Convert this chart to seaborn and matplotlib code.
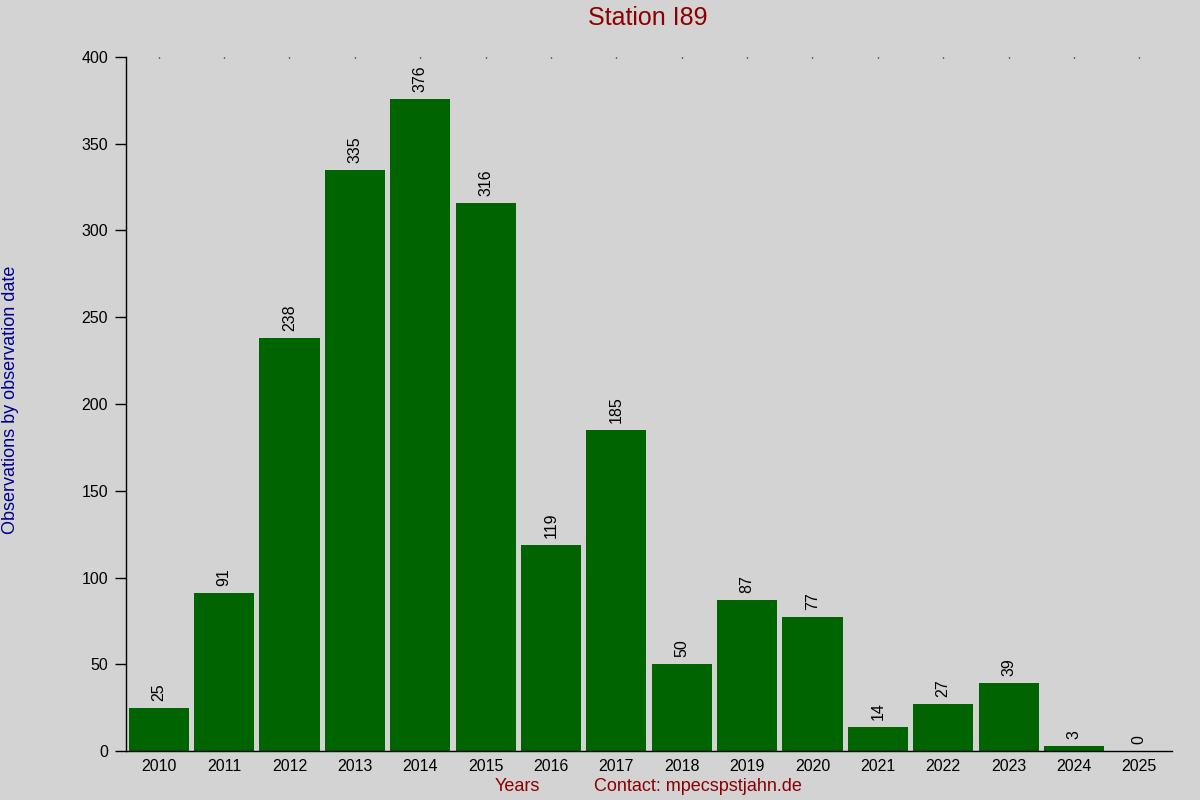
import matplotlib
matplotlib.use("Agg")
import matplotlib.pyplot as plt
import seaborn as sns
import pandas as pd

# values
years = ["2010", "2011", "2012", "2013", "2014", "2015", "2016", "2017",
         "2018", "2019", "2020", "2021", "2022", "2023", "2024", "2025"]
counts = [25, 91, 238, 335, 376, 316, 119, 185, 50, 87, 77, 14, 27, 39, 3, 0]
yticks = [0, 50, 100, 150, 200, 250, 300, 350, 400]

bg = "#d3d3d3"
bar_color = "#006400"
red = "#8b0000"
blue = "#00008b"

sns.set_theme(style="white")
plt.rcParams["font.family"] = ["Liberation Sans", "DejaVu Sans"]

df = pd.DataFrame({"year": years, "count": counts})

fig = plt.figure(figsize=(12, 8), dpi=100, facecolor=bg)
ax = fig.add_axes([0.105, 0.06125, 0.8717, 0.8675])
ax.set_facecolor(bg)

sns.barplot(data=df, x="year", y="count", color=bar_color, width=0.92,
            saturation=1, linewidth=0, edgecolor=bar_color, ax=ax)

# value labels above bars
for i, v in enumerate(counts):
    ax.text(i, v + 4, str(v), rotation=90, ha="center", va="bottom",
            fontsize=11.5, color="black")

ax.set_xlim(-0.5, len(years) - 0.5)
ax.set_ylim(0, 400)
ax.set_yticks(yticks)

for s in ["top", "right"]:
    ax.spines[s].set_visible(False)
for s in ["left", "bottom"]:
    ax.spines[s].set_color("black")
    ax.spines[s].set_linewidth(1)

ax.tick_params(axis="y", left=True, length=8, width=1, color="black",
               labelsize=11.5, labelcolor="black", pad=5)
# tiny dots on top edge at each year
ax.tick_params(axis="x", bottom=False, top=True, direction="in", length=1,
               width=1, color="black", labelsize=11.5, labelcolor="black", pad=6)

ax.set_xlabel("")
ax.set_ylabel("")

fig.text(0.54, 0.978, "Station I89", ha="center", va="center",
         fontsize=18, color=red)
fig.text(0.009, 0.5, "Observations by observation date", rotation=90,
         ha="center", va="center", fontsize=13, color=blue)
fig.text(0.431, 0.017, "Years", ha="center", va="center", fontsize=13, color=red)
fig.text(0.582, 0.017, "Contact: mpecspstjahn.de", ha="center", va="center",
         fontsize=13, color=red)

fig.savefig("out.png", dpi=100, facecolor=bg)
